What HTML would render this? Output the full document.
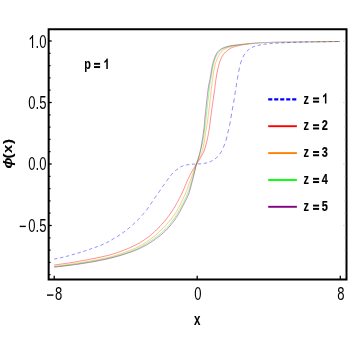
<!DOCTYPE html>
<html><head><meta charset="utf-8">
<style>
html,body{margin:0;padding:0;background:#fff;}
body{width:353px;height:360px;overflow:hidden;position:relative;font-family:"Liberation Sans",sans-serif;}
svg{position:absolute;left:0;top:0;}
text{font-family:"Liberation Sans",sans-serif;fill:#000;}
</style></head><body>
<svg width="353" height="360" viewBox="0 0 353 360">
<rect x="0" y="0" width="353" height="360" fill="#fff"/>
<defs><linearGradient id="fg" gradientUnits="userSpaceOnUse" x1="228.0" y1="0" x2="262.0" y2="0"><stop offset="0" stop-color="#fff"/><stop offset="1" stop-color="rgb(128,128,128)"/></linearGradient><mask id="fm" maskUnits="userSpaceOnUse" x="0" y="0" width="353" height="360"><rect x="0" y="0" width="353" height="360" fill="url(#fg)"/></mask></defs>
<g mask="url(#fm)"><g fill="none" stroke-width="0.52" transform="scale(0.75,1)">
<path d="M72.3 265.0 L73.7 264.9 L75.1 264.7 L76.5 264.6 L77.9 264.5 L79.3 264.3 L80.7 264.2 L82.1 264.0 L83.5 263.9 L84.9 263.7 L86.3 263.6 L87.7 263.4 L89.1 263.3 L90.5 263.1 L91.8 263.0 L93.2 262.8 L94.6 262.6 L96.0 262.5 L97.4 262.3 L98.8 262.1 L100.2 262.0 L101.6 261.8 L103.0 261.6 L104.3 261.4 L105.7 261.2 L107.1 261.0 L108.5 260.8 L109.9 260.7 L111.3 260.5 L112.6 260.3 L114.0 260.1 L115.4 259.9 L116.8 259.7 L118.2 259.5 L119.6 259.3 L120.9 259.1 L122.3 258.9 L123.7 258.7 L125.1 258.5 L126.5 258.3 L127.9 258.1 L129.2 257.8 L130.6 257.6 L132.0 257.4 L133.4 257.2 L134.8 257.0 L136.1 256.8 L137.5 256.6 L138.9 256.3 L140.3 256.1 L141.6 255.9 L143.0 255.6 L144.4 255.4 L145.7 255.1 L147.1 254.8 L148.4 254.5 L149.8 254.2 L151.1 253.9 L152.5 253.6 L153.8 253.3 L155.1 252.9 L156.5 252.6 L157.8 252.2 L159.1 251.9 L160.4 251.5 L161.8 251.2 L163.1 250.8 L164.4 250.4 L165.7 250.0 L167.0 249.6 L168.3 249.2 L169.6 248.8 L170.9 248.4 L172.2 248.0 L173.5 247.6 L174.8 247.1 L176.1 246.7 L177.3 246.3 L178.6 245.8 L179.9 245.3 L181.1 244.9 L182.4 244.4 L183.6 243.9 L184.9 243.4 L186.1 242.9 L187.3 242.3 L188.5 241.8 L189.7 241.2 L190.9 240.6 L192.0 240.1 L193.2 239.5 L194.4 238.8 L195.5 238.2 L196.6 237.6 L197.8 237.0 L198.9 236.3 L200.0 235.7 L201.1 235.0 L202.1 234.3 L203.2 233.6 L204.3 232.9 L205.3 232.2 L206.3 231.5 L207.4 230.8 L208.4 230.0 L209.4 229.3 L210.4 228.6 L211.3 227.8 L212.3 227.0 L213.3 226.3 L214.3 225.5 L215.2 224.7 L216.2 224.0 L217.1 223.2 L218.1 222.4 L219.0 221.6 L219.9 220.8 L220.8 220.0 L221.7 219.1 L222.5 218.3 L223.4 217.5 L224.2 216.6 L225.1 215.8 L225.9 214.9 L226.7 214.1 L227.5 213.2 L228.3 212.3 L229.1 211.4 L229.8 210.6 L230.6 209.7 L231.3 208.8 L232.1 207.9 L232.8 207.0 L233.5 206.1 L234.3 205.2 L235.0 204.3 L235.7 203.3 L236.4 202.4 L237.1 201.5 L237.7 200.6 L238.4 199.6 L239.0 198.7 L239.7 197.8 L240.3 196.8 L240.9 195.9 L241.6 194.9 L242.2 194.0 L242.8 193.0 L243.3 192.1 L243.9 191.1 L244.5 190.1 L245.0 189.2 L245.6 188.2 L246.2 187.2 L246.7 186.2 L247.2 185.3 L247.8 184.3 L248.3 183.3 L248.8 182.3 L249.4 181.4 L249.9 180.4 L250.5 179.4 L251.1 178.5 L251.7 177.5 L252.4 176.6 L253.0 175.6 L253.6 174.7 L254.3 173.8 L255.0 172.8 L255.6 171.9 L256.3 171.0 L257.0 170.1 L257.7 169.2 L258.5 168.3 L259.2 167.4 L259.9 166.5 L260.7 165.6 L261.4 164.7 L262.2 163.8 L263.0 162.9 L263.8 162.0 L264.6 161.2 L265.4 160.3 L266.2 159.4 L266.9 158.5 L267.6 157.6 L268.3 156.7 L269.0 155.8 L269.6 154.8 L270.3 153.9 L270.9 152.9 L271.4 152.0 L272.0 151.0 L272.5 150.0 L272.9 149.0 L273.4 148.0 L273.8 147.0 L274.2 146.0 L274.5 145.0 L274.9 143.9 L275.3 142.9 L275.6 141.9 L275.9 140.9 L276.3 139.8 L276.6 138.8 L276.9 137.8 L277.1 136.7 L277.4 135.7 L277.7 134.7 L277.9 133.6 L278.2 132.6 L278.4 131.5 L278.6 130.5 L278.8 129.5 L279.1 128.4 L279.3 127.4 L279.5 126.3 L279.7 125.3 L279.8 124.2 L280.0 123.2 L280.2 122.1 L280.4 121.1 L280.5 120.0 L280.7 119.0 L280.9 118.0 L281.1 116.9 L281.3 115.9 L281.5 114.8 L281.7 113.8 L281.8 112.7 L282.0 111.7 L282.2 110.6 L282.4 109.6 L282.6 108.5 L282.8 107.5 L283.0 106.5 L283.2 105.4 L283.4 104.4 L283.6 103.3 L283.8 102.3 L284.0 101.2 L284.2 100.2 L284.4 99.1 L284.6 98.1 L284.8 97.0 L285.0 96.0 L285.2 95.0 L285.4 93.9 L285.6 92.9 L285.7 91.8 L285.9 90.8 L286.1 89.7 L286.3 88.7 L286.5 87.6 L286.6 86.6 L286.8 85.5 L287.0 84.5 L287.2 83.4 L287.3 82.4 L287.5 81.4 L287.7 80.3 L287.9 79.3 L288.2 78.2 L288.4 77.2 L288.6 76.1 L288.8 75.1 L289.1 74.1 L289.3 73.0 L289.6 72.0 L289.9 70.9 L290.2 69.9 L290.5 68.9 L290.8 67.8 L291.1 66.8 L291.5 65.8 L291.8 64.8 L292.2 63.8 L292.6 62.8 L293.1 61.8 L293.6 60.7 L294.1 59.7 L294.6 58.8 L295.2 57.8 L295.8 56.9 L296.5 56.0 L297.3 55.1 L298.1 54.2 L299.0 53.4 L300.0 52.6 L301.0 51.8 L302.0 51.1 L303.0 50.5 L304.2 49.8 L305.3 49.2 L306.5 48.6 L307.8 48.1 L309.0 47.7 L310.3 47.3 L311.7 47.0 L313.0 46.7 L314.4 46.4 L315.8 46.1 L317.2 45.9 L318.5 45.7 L319.9 45.4 L321.3 45.2 L322.7 45.0 L324.0 44.8 L325.4 44.7 L326.8 44.5 L328.2 44.3 L329.6 44.2 L331.0 44.0 L332.4 43.9 L333.8 43.8 L335.2 43.7 L336.6 43.6 L338.0 43.4 L339.4 43.3 L340.8 43.2 L342.2 43.1 L343.6 43.0 L345.0 42.9 L346.4 42.8 L347.8 42.8 L349.2 42.7 L350.6 42.7 L352.0 42.6 L353.4 42.6 L354.8 42.5 L356.2 42.5 L357.6 42.5 L359.1 42.4 L360.5 42.4 L361.9 42.4 L363.3 42.3 L364.7 42.3 L366.1 42.3 L367.5 42.3 L368.9 42.2 L370.3 42.2 L371.7 42.2 L373.1 42.2 L374.5 42.2 L375.9 42.2 L377.3 42.1 L378.8 42.1 L380.2 42.1 L381.6 42.1 L383.0 42.1 L384.4 42.1 L385.8 42.1 L387.2 42.0 L388.6 42.0 L390.0 42.0 L391.4 42.0 L392.8 42.0 L394.2 42.0 L395.6 42.0 L397.0 42.0 L398.5 42.0 L399.9 42.0 L401.3 41.9 L402.7 41.9 L404.1 41.9 L405.5 41.9 L406.9 41.9 L408.3 41.9 L409.7 41.9 L411.1 41.9 L412.5 41.8 L413.9 41.8 L415.3 41.8 L416.7 41.8" stroke="#ff0000"/>
<path d="M72.3 266.3 L73.8 266.2 L75.2 266.1 L76.6 265.9 L78.0 265.8 L79.4 265.7 L80.8 265.6 L82.3 265.4 L83.7 265.3 L85.1 265.1 L86.5 265.0 L87.9 264.9 L89.3 264.7 L90.7 264.6 L92.2 264.4 L93.6 264.3 L95.0 264.1 L96.4 264.0 L97.8 263.8 L99.2 263.6 L100.6 263.5 L102.0 263.3 L103.4 263.1 L104.9 263.0 L106.3 262.8 L107.7 262.6 L109.1 262.4 L110.5 262.3 L111.9 262.1 L113.3 261.9 L114.7 261.7 L116.1 261.5 L117.5 261.3 L118.9 261.1 L120.3 261.0 L121.7 260.8 L123.1 260.6 L124.5 260.4 L125.9 260.2 L127.4 260.0 L128.8 259.8 L130.2 259.6 L131.6 259.4 L133.0 259.2 L134.4 259.0 L135.8 258.8 L137.2 258.6 L138.6 258.4 L140.0 258.2 L141.4 257.9 L142.8 257.7 L144.2 257.5 L145.5 257.2 L146.9 257.0 L148.3 256.7 L149.7 256.4 L151.0 256.1 L152.4 255.8 L153.8 255.5 L155.1 255.2 L156.5 254.9 L157.9 254.6 L159.2 254.2 L160.6 253.9 L161.9 253.6 L163.3 253.2 L164.7 252.8 L166.0 252.5 L167.3 252.1 L168.7 251.7 L170.0 251.4 L171.3 251.0 L172.7 250.6 L174.0 250.2 L175.3 249.8 L176.6 249.4 L177.9 249.0 L179.3 248.5 L180.6 248.1 L181.8 247.6 L183.1 247.1 L184.4 246.7 L185.7 246.2 L186.9 245.7 L188.2 245.2 L189.4 244.6 L190.7 244.1 L191.9 243.6 L193.1 243.0 L194.3 242.4 L195.5 241.9 L196.7 241.3 L197.9 240.7 L199.1 240.0 L200.2 239.4 L201.4 238.8 L202.5 238.1 L203.6 237.4 L204.7 236.8 L205.8 236.1 L206.9 235.4 L208.0 234.7 L209.1 234.0 L210.2 233.3 L211.2 232.6 L212.3 231.9 L213.3 231.1 L214.3 230.4 L215.4 229.7 L216.4 228.9 L217.4 228.2 L218.4 227.4 L219.4 226.6 L220.4 225.8 L221.4 225.1 L222.3 224.3 L223.3 223.5 L224.2 222.7 L225.2 221.9 L226.1 221.0 L227.0 220.2 L227.9 219.4 L228.8 218.5 L229.7 217.7 L230.5 216.8 L231.4 216.0 L232.2 215.1 L233.0 214.2 L233.8 213.3 L234.6 212.4 L235.3 211.5 L236.0 210.6 L236.7 209.7 L237.4 208.7 L238.1 207.8 L238.7 206.8 L239.4 205.9 L240.0 204.9 L240.7 203.9 L241.3 203.0 L241.9 202.0 L242.5 201.1 L243.2 200.1 L243.8 199.1 L244.4 198.2 L245.0 197.2 L245.6 196.2 L246.2 195.3 L246.8 194.3 L247.4 193.3 L247.9 192.3 L248.5 191.3 L249.0 190.3 L249.5 189.3 L250.0 188.3 L250.5 187.3 L250.9 186.3 L251.4 185.3 L251.9 184.3 L252.4 183.3 L252.9 182.3 L253.4 181.3 L253.9 180.3 L254.4 179.3 L254.9 178.3 L255.4 177.3 L255.9 176.3 L256.3 175.2 L256.8 174.2 L257.3 173.2 L257.8 172.2 L258.3 171.2 L258.8 170.2 L259.2 169.2 L259.7 168.2 L260.3 167.2 L260.8 166.2 L261.3 165.2 L261.9 164.2 L262.5 163.3 L263.1 162.3 L263.7 161.3 L264.4 160.4 L265.1 159.4 L265.7 158.5 L266.3 157.5 L266.9 156.5 L267.5 155.6 L268.0 154.6 L268.6 153.6 L269.1 152.6 L269.5 151.6 L270.0 150.5 L270.3 149.5 L270.6 148.5 L270.9 147.4 L271.2 146.4 L271.5 145.3 L271.7 144.3 L272.0 143.2 L272.2 142.1 L272.5 141.1 L272.7 140.0 L272.9 139.0 L273.2 137.9 L273.4 136.9 L273.6 135.8 L273.8 134.7 L274.0 133.7 L274.2 132.6 L274.4 131.6 L274.6 130.5 L274.9 129.5 L275.1 128.4 L275.3 127.3 L275.6 126.3 L275.8 125.2 L276.1 124.2 L276.3 123.1 L276.5 122.1 L276.7 121.0 L276.9 119.9 L277.1 118.9 L277.3 117.8 L277.5 116.8 L277.7 115.7 L277.8 114.6 L278.0 113.6 L278.2 112.5 L278.4 111.5 L278.5 110.4 L278.7 109.3 L278.9 108.3 L279.1 107.2 L279.2 106.1 L279.4 105.1 L279.6 104.0 L279.7 102.9 L279.9 101.9 L280.0 100.8 L280.2 99.8 L280.3 98.7 L280.5 97.6 L280.7 96.6 L280.8 95.5 L281.0 94.4 L281.1 93.4 L281.3 92.3 L281.4 91.2 L281.6 90.2 L281.8 89.1 L281.9 88.1 L282.1 87.0 L282.3 85.9 L282.5 84.9 L282.6 83.8 L282.8 82.7 L283.0 81.7 L283.2 80.6 L283.4 79.6 L283.6 78.5 L283.8 77.4 L284.0 76.4 L284.2 75.3 L284.4 74.3 L284.6 73.2 L284.8 72.1 L285.1 71.1 L285.3 70.0 L285.6 69.0 L285.8 67.9 L286.2 66.9 L286.5 65.8 L286.8 64.8 L287.2 63.8 L287.6 62.7 L288.1 61.7 L288.6 60.7 L289.0 59.7 L289.6 58.7 L290.1 57.7 L290.8 56.8 L291.5 55.8 L292.2 54.9 L293.0 54.0 L293.8 53.1 L294.7 52.3 L295.6 51.5 L296.7 50.7 L297.8 50.0 L298.9 49.3 L300.1 48.8 L301.3 48.3 L302.6 47.9 L304.0 47.5 L305.4 47.2 L306.8 46.9 L308.1 46.6 L309.5 46.3 L310.9 46.1 L312.3 45.9 L313.7 45.7 L315.1 45.5 L316.5 45.3 L317.9 45.1 L319.3 45.0 L320.8 44.8 L322.2 44.6 L323.6 44.5 L325.0 44.4 L326.4 44.2 L327.8 44.1 L329.3 44.0 L330.7 43.9 L332.1 43.8 L333.5 43.6 L334.9 43.5 L336.4 43.4 L337.8 43.3 L339.2 43.3 L340.6 43.2 L342.0 43.1 L343.5 43.0 L344.9 42.9 L346.3 42.8 L347.7 42.8 L349.2 42.7 L350.6 42.7 L352.0 42.6 L353.4 42.6 L354.9 42.5 L356.3 42.5 L357.7 42.5 L359.1 42.4 L360.6 42.4 L362.0 42.4 L363.4 42.3 L364.9 42.3 L366.3 42.3 L367.7 42.3 L369.1 42.2 L370.6 42.2 L372.0 42.2 L373.4 42.2 L374.8 42.2 L376.3 42.1 L377.7 42.1 L379.1 42.1 L380.5 42.1 L382.0 42.1 L383.4 42.1 L384.8 42.1 L386.3 42.1 L387.7 42.0 L389.1 42.0 L390.5 42.0 L392.0 42.0 L393.4 42.0 L394.8 42.0 L396.2 42.0 L397.7 42.0 L399.1 42.0 L400.5 41.9 L402.0 41.9 L403.4 41.9 L404.8 41.9 L406.2 41.9 L407.7 41.9 L409.1 41.9 L410.5 41.9 L411.9 41.9 L413.4 41.8 L414.8 41.8 L416.2 41.8 L417.7 41.8" stroke="#ff8000"/>
<path d="M72.3 266.7 L73.8 266.6 L75.2 266.5 L76.6 266.4 L78.1 266.3 L79.5 266.1 L80.9 266.0 L82.3 265.9 L83.8 265.8 L85.2 265.7 L86.6 265.5 L88.1 265.4 L89.5 265.3 L90.9 265.1 L92.3 265.0 L93.8 264.9 L95.2 264.7 L96.6 264.6 L98.0 264.4 L99.5 264.3 L100.9 264.1 L102.3 264.0 L103.7 263.8 L105.2 263.6 L106.6 263.5 L108.0 263.3 L109.4 263.1 L110.8 263.0 L112.3 262.8 L113.7 262.6 L115.1 262.4 L116.5 262.3 L117.9 262.1 L119.3 261.9 L120.8 261.7 L122.2 261.5 L123.6 261.3 L125.0 261.1 L126.4 260.9 L127.8 260.7 L129.3 260.6 L130.7 260.4 L132.1 260.2 L133.5 259.9 L134.9 259.7 L136.3 259.5 L137.7 259.3 L139.2 259.1 L140.6 258.9 L142.0 258.6 L143.4 258.4 L144.8 258.1 L146.2 257.9 L147.5 257.6 L148.9 257.4 L150.3 257.1 L151.7 256.8 L153.1 256.5 L154.5 256.2 L155.9 255.9 L157.2 255.6 L158.6 255.3 L160.0 255.0 L161.4 254.7 L162.7 254.3 L164.1 254.0 L165.5 253.7 L166.8 253.3 L168.2 253.0 L169.6 252.6 L170.9 252.2 L172.3 251.9 L173.6 251.5 L175.0 251.1 L176.3 250.7 L177.6 250.3 L179.0 249.9 L180.3 249.5 L181.6 249.1 L182.9 248.6 L184.2 248.2 L185.5 247.7 L186.8 247.2 L188.1 246.8 L189.4 246.3 L190.7 245.7 L191.9 245.2 L193.2 244.7 L194.4 244.1 L195.6 243.6 L196.9 243.0 L198.1 242.4 L199.3 241.8 L200.4 241.2 L201.6 240.6 L202.8 240.0 L203.9 239.3 L205.1 238.7 L206.2 238.0 L207.4 237.4 L208.5 236.7 L209.7 236.0 L210.8 235.4 L212.0 234.7 L213.1 234.1 L214.3 233.4 L215.4 232.7 L216.5 232.0 L217.6 231.3 L218.6 230.6 L219.7 229.9 L220.7 229.1 L221.6 228.3 L222.6 227.5 L223.6 226.7 L224.5 225.9 L225.5 225.1 L226.4 224.3 L227.3 223.4 L228.2 222.6 L229.1 221.7 L229.9 220.8 L230.8 220.0 L231.6 219.1 L232.5 218.2 L233.3 217.3 L234.1 216.4 L234.9 215.5 L235.6 214.6 L236.4 213.7 L237.1 212.8 L237.8 211.8 L238.6 210.9 L239.3 210.0 L240.0 209.0 L240.7 208.1 L241.3 207.1 L242.0 206.1 L242.7 205.2 L243.3 204.2 L244.0 203.3 L244.6 202.3 L245.3 201.3 L245.9 200.4 L246.6 199.4 L247.2 198.4 L247.8 197.5 L248.4 196.5 L249.0 195.5 L249.5 194.5 L250.1 193.5 L250.6 192.5 L251.1 191.5 L251.6 190.5 L252.1 189.5 L252.5 188.4 L252.9 187.4 L253.4 186.4 L253.8 185.3 L254.2 184.3 L254.6 183.3 L255.0 182.2 L255.4 181.2 L255.8 180.2 L256.2 179.1 L256.6 178.1 L257.0 177.1 L257.4 176.0 L257.8 175.0 L258.2 173.9 L258.6 172.9 L259.0 171.9 L259.4 170.8 L259.7 169.8 L260.1 168.7 L260.5 167.7 L260.9 166.7 L261.3 165.6 L261.7 164.6 L262.2 163.6 L262.6 162.6 L263.1 161.5 L263.6 160.5 L264.1 159.5 L264.6 158.5 L265.0 157.5 L265.5 156.4 L265.9 155.4 L266.3 154.4 L266.7 153.3 L267.1 152.3 L267.4 151.3 L267.8 150.2 L268.1 149.2 L268.5 148.1 L268.8 147.1 L269.1 146.0 L269.4 145.0 L269.7 143.9 L270.0 142.8 L270.3 141.8 L270.5 140.7 L270.8 139.7 L271.0 138.6 L271.3 137.5 L271.5 136.5 L271.7 135.4 L272.0 134.3 L272.2 133.3 L272.4 132.2 L272.6 131.1 L272.8 130.1 L273.0 129.0 L273.2 127.9 L273.3 126.9 L273.5 125.8 L273.7 124.7 L273.8 123.6 L274.0 122.6 L274.2 121.5 L274.3 120.4 L274.5 119.4 L274.7 118.3 L274.8 117.2 L275.0 116.1 L275.2 115.1 L275.3 114.0 L275.5 112.9 L275.6 111.9 L275.8 110.8 L276.0 109.7 L276.1 108.6 L276.3 107.6 L276.4 106.5 L276.6 105.4 L276.8 104.4 L276.9 103.3 L277.1 102.2 L277.2 101.1 L277.4 100.1 L277.6 99.0 L277.7 97.9 L277.9 96.9 L278.1 95.8 L278.2 94.7 L278.4 93.6 L278.5 92.6 L278.7 91.5 L278.8 90.4 L279.0 89.3 L279.2 88.3 L279.3 87.2 L279.5 86.1 L279.7 85.1 L279.9 84.0 L280.2 82.9 L280.4 81.9 L280.7 80.8 L280.9 79.8 L281.2 78.7 L281.5 77.6 L281.7 76.6 L281.9 75.5 L282.2 74.4 L282.4 73.4 L282.6 72.3 L282.9 71.2 L283.1 70.2 L283.4 69.1 L283.6 68.0 L283.9 67.0 L284.2 65.9 L284.5 64.9 L284.8 63.8 L285.2 62.8 L285.6 61.7 L286.0 60.7 L286.4 59.6 L286.9 58.6 L287.4 57.6 L287.9 56.7 L288.5 55.7 L289.3 54.7 L290.1 53.8 L290.9 52.9 L291.8 52.1 L292.8 51.3 L293.8 50.6 L295.0 50.0 L296.2 49.3 L297.5 48.8 L298.8 48.3 L300.1 47.9 L301.4 47.5 L302.8 47.1 L304.1 46.8 L305.5 46.5 L306.9 46.2 L308.3 46.0 L309.7 45.8 L311.2 45.6 L312.6 45.4 L314.0 45.3 L315.4 45.1 L316.9 45.0 L318.3 44.9 L319.7 44.7 L321.2 44.6 L322.6 44.4 L324.0 44.3 L325.4 44.2 L326.9 44.1 L328.3 43.9 L329.7 43.8 L331.2 43.7 L332.6 43.6 L334.0 43.5 L335.5 43.5 L336.9 43.4 L338.3 43.3 L339.8 43.2 L341.2 43.1 L342.6 43.0 L344.1 43.0 L345.5 42.9 L346.9 42.8 L348.4 42.7 L349.8 42.7 L351.2 42.6 L352.7 42.6 L354.1 42.6 L355.5 42.5 L357.0 42.5 L358.4 42.4 L359.9 42.4 L361.3 42.4 L362.7 42.3 L364.2 42.3 L365.6 42.3 L367.0 42.3 L368.5 42.2 L369.9 42.2 L371.4 42.2 L372.8 42.2 L374.2 42.2 L375.7 42.2 L377.1 42.1 L378.6 42.1 L380.0 42.1 L381.4 42.1 L382.9 42.1 L384.3 42.1 L385.7 42.1 L387.2 42.0 L388.6 42.0 L390.1 42.0 L391.5 42.0 L392.9 42.0 L394.4 42.0 L395.8 42.0 L397.2 42.0 L398.7 42.0 L400.1 42.0 L401.6 41.9 L403.0 41.9 L404.4 41.9 L405.9 41.9 L407.3 41.9 L408.8 41.9 L410.2 41.9 L411.6 41.9 L413.1 41.8 L414.5 41.8 L415.9 41.8 L417.4 41.8" stroke="#00ff00"/>
<path d="M72.3 267.1 L73.8 267.0 L75.2 266.9 L76.6 266.8 L78.1 266.7 L79.5 266.5 L81.0 266.4 L82.4 266.3 L83.8 266.2 L85.3 266.0 L86.7 265.9 L88.1 265.8 L89.6 265.7 L91.0 265.5 L92.4 265.4 L93.9 265.2 L95.3 265.1 L96.7 265.0 L98.2 264.8 L99.6 264.7 L101.0 264.5 L102.5 264.4 L103.9 264.2 L105.3 264.1 L106.8 263.9 L108.2 263.7 L109.6 263.6 L111.1 263.4 L112.5 263.2 L113.9 263.1 L115.3 262.9 L116.8 262.7 L118.2 262.5 L119.6 262.4 L121.0 262.2 L122.5 262.0 L123.9 261.8 L125.3 261.6 L126.7 261.4 L128.2 261.2 L129.6 261.0 L131.0 260.8 L132.4 260.6 L133.8 260.4 L135.3 260.2 L136.7 260.0 L138.1 259.7 L139.5 259.5 L140.9 259.3 L142.3 259.1 L143.7 258.8 L145.1 258.6 L146.5 258.3 L147.9 258.1 L149.3 257.8 L150.7 257.5 L152.1 257.3 L153.5 257.0 L154.9 256.7 L156.3 256.4 L157.7 256.1 L159.1 255.8 L160.5 255.5 L161.9 255.2 L163.3 254.9 L164.7 254.5 L166.0 254.2 L167.4 253.9 L168.8 253.5 L170.2 253.2 L171.5 252.8 L172.9 252.5 L174.3 252.1 L175.6 251.8 L177.0 251.4 L178.3 251.0 L179.7 250.6 L181.0 250.2 L182.3 249.8 L183.7 249.4 L185.0 248.9 L186.3 248.5 L187.6 248.0 L188.9 247.5 L190.2 247.0 L191.5 246.5 L192.8 246.0 L194.0 245.5 L195.3 245.0 L196.6 244.4 L197.8 243.9 L199.0 243.3 L200.2 242.7 L201.5 242.2 L202.7 241.5 L203.9 240.9 L205.0 240.3 L206.2 239.7 L207.4 239.0 L208.5 238.4 L209.7 237.7 L210.9 237.1 L212.0 236.4 L213.2 235.8 L214.3 235.1 L215.4 234.4 L216.5 233.7 L217.6 233.0 L218.7 232.2 L219.7 231.5 L220.7 230.8 L221.7 230.0 L222.7 229.2 L223.7 228.4 L224.7 227.6 L225.7 226.8 L226.6 226.0 L227.6 225.1 L228.5 224.3 L229.4 223.4 L230.3 222.6 L231.2 221.7 L232.1 220.8 L232.9 220.0 L233.7 219.1 L234.5 218.2 L235.3 217.3 L236.1 216.4 L236.9 215.5 L237.6 214.5 L238.3 213.6 L239.0 212.7 L239.8 211.7 L240.5 210.8 L241.1 209.8 L241.8 208.8 L242.5 207.9 L243.2 206.9 L243.8 205.9 L244.5 205.0 L245.2 204.0 L245.8 203.1 L246.5 202.1 L247.2 201.1 L247.8 200.1 L248.5 199.2 L249.1 198.2 L249.7 197.2 L250.3 196.2 L250.9 195.2 L251.4 194.2 L251.9 193.2 L252.4 192.2 L252.8 191.2 L253.2 190.1 L253.6 189.1 L254.0 188.0 L254.3 187.0 L254.7 185.9 L255.1 184.9 L255.4 183.8 L255.8 182.8 L256.2 181.7 L256.6 180.7 L257.0 179.6 L257.3 178.6 L257.7 177.5 L258.1 176.5 L258.4 175.4 L258.8 174.4 L259.1 173.3 L259.4 172.3 L259.7 171.2 L260.0 170.2 L260.4 169.1 L260.7 168.0 L261.0 167.0 L261.3 165.9 L261.7 164.9 L262.1 163.8 L262.5 162.8 L262.9 161.8 L263.3 160.7 L263.8 159.7 L264.2 158.7 L264.6 157.6 L265.1 156.6 L265.5 155.5 L265.8 154.5 L266.2 153.4 L266.5 152.4 L266.9 151.3 L267.2 150.3 L267.5 149.2 L267.8 148.2 L268.1 147.1 L268.4 146.0 L268.6 145.0 L268.9 143.9 L269.1 142.8 L269.3 141.8 L269.5 140.7 L269.8 139.6 L270.0 138.5 L270.2 137.5 L270.5 136.4 L270.7 135.3 L270.9 134.3 L271.1 133.2 L271.4 132.1 L271.6 131.0 L271.7 130.0 L271.9 128.9 L272.1 127.8 L272.2 126.7 L272.3 125.7 L272.5 124.6 L272.6 123.5 L272.7 122.4 L272.8 121.3 L273.0 120.3 L273.1 119.2 L273.2 118.1 L273.4 117.0 L273.5 115.9 L273.7 114.9 L273.8 113.8 L274.0 112.7 L274.1 111.6 L274.3 110.5 L274.4 109.5 L274.6 108.4 L274.7 107.3 L274.9 106.2 L275.0 105.2 L275.2 104.1 L275.3 103.0 L275.5 101.9 L275.7 100.8 L275.8 99.8 L276.0 98.7 L276.2 97.6 L276.3 96.5 L276.5 95.5 L276.7 94.4 L276.8 93.3 L277.0 92.2 L277.2 91.2 L277.4 90.1 L277.5 89.0 L277.7 87.9 L278.0 86.9 L278.2 85.8 L278.4 84.7 L278.7 83.7 L279.0 82.6 L279.3 81.5 L279.6 80.5 L279.9 79.4 L280.2 78.4 L280.5 77.3 L280.7 76.2 L281.0 75.1 L281.2 74.1 L281.4 73.0 L281.6 71.9 L281.8 70.8 L282.1 69.8 L282.3 68.7 L282.5 67.6 L282.8 66.6 L283.1 65.5 L283.4 64.5 L283.8 63.4 L284.2 62.4 L284.6 61.3 L285.0 60.3 L285.5 59.2 L286.0 58.2 L286.5 57.2 L287.1 56.2 L287.7 55.2 L288.4 54.2 L289.1 53.2 L289.9 52.3 L290.7 51.5 L291.6 50.8 L292.7 50.1 L293.9 49.4 L295.2 48.8 L296.5 48.3 L297.8 47.9 L299.1 47.5 L300.5 47.1 L301.9 46.8 L303.3 46.5 L304.7 46.2 L306.1 46.0 L307.6 45.8 L309.0 45.6 L310.4 45.5 L311.8 45.3 L313.3 45.2 L314.7 45.1 L316.2 44.9 L317.6 44.8 L319.0 44.7 L320.5 44.6 L321.9 44.4 L323.3 44.3 L324.8 44.2 L326.2 44.1 L327.7 44.0 L329.1 43.9 L330.5 43.8 L332.0 43.7 L333.4 43.6 L334.9 43.5 L336.3 43.4 L337.7 43.3 L339.2 43.2 L340.6 43.2 L342.1 43.1 L343.5 43.0 L344.9 42.9 L346.4 42.8 L347.8 42.8 L349.3 42.7 L350.7 42.7 L352.2 42.6 L353.6 42.6 L355.0 42.5 L356.5 42.5 L357.9 42.5 L359.4 42.4 L360.8 42.4 L362.3 42.4 L363.7 42.3 L365.2 42.3 L366.6 42.3 L368.1 42.3 L369.5 42.2 L370.9 42.2 L372.4 42.2 L373.8 42.2 L375.3 42.2 L376.7 42.1 L378.2 42.1 L379.6 42.1 L381.1 42.1 L382.5 42.1 L384.0 42.1 L385.4 42.1 L386.8 42.1 L388.3 42.0 L389.7 42.0 L391.2 42.0 L392.6 42.0 L394.1 42.0 L395.5 42.0 L397.0 42.0 L398.4 42.0 L399.9 42.0 L401.3 41.9 L402.7 41.9 L404.2 41.9 L405.6 41.9 L407.1 41.9 L408.5 41.9 L410.0 41.9 L411.4 41.9 L412.9 41.8 L414.3 41.8 L415.8 41.8 L417.2 41.8" stroke="#800080"/>
</g></g>
<g fill="none" stroke-width="0.52" transform="scale(0.75,1)">
<path d="M72.3 259.1 L73.7 258.9 L75.0 258.7 L76.3 258.5 L77.7 258.3 L79.0 258.1 L80.3 257.8 L81.6 257.6 L83.0 257.4 L84.3 257.1 L85.6 256.9 L86.9 256.7 L88.3 256.4 L89.6 256.2 L90.9 255.9 L92.2 255.6 L93.5 255.4 L94.8 255.1 L96.1 254.8 L97.4 254.5 L98.7 254.2 L100.0 253.9 L101.3 253.6 L102.7 253.4 L104.0 253.1 L105.3 252.8 L106.6 252.5 L107.9 252.2 L109.2 251.9 L110.5 251.6 L111.8 251.3 L113.0 250.9 L114.3 250.6 L115.6 250.3 L116.9 250.0 L118.2 249.6 L119.5 249.3 L120.8 249.0 L122.1 248.6 L123.3 248.3 L124.6 248.0 L125.9 247.6 L127.2 247.3 L128.5 246.9 L129.8 246.6 L131.0 246.3 L132.3 245.9 L133.6 245.5 L134.8 245.1 L136.1 244.8 L137.3 244.3 L138.6 243.9 L139.8 243.5 L141.0 243.1 L142.3 242.6 L143.5 242.1 L144.7 241.7 L145.9 241.2 L147.0 240.7 L148.2 240.1 L149.4 239.6 L150.6 239.1 L151.7 238.6 L152.9 238.1 L154.1 237.5 L155.2 237.0 L156.4 236.5 L157.5 235.9 L158.7 235.4 L159.8 234.8 L160.9 234.2 L162.1 233.7 L163.2 233.1 L164.3 232.5 L165.4 231.9 L166.5 231.3 L167.6 230.7 L168.6 230.0 L169.7 229.4 L170.8 228.8 L171.8 228.1 L172.8 227.5 L173.9 226.8 L174.9 226.1 L175.9 225.4 L176.9 224.8 L177.9 224.1 L179.0 223.4 L180.0 222.7 L181.0 222.0 L182.0 221.3 L182.9 220.6 L183.9 219.9 L184.8 219.2 L185.8 218.4 L186.7 217.7 L187.6 216.9 L188.5 216.1 L189.4 215.4 L190.3 214.6 L191.2 213.8 L192.1 213.1 L193.0 212.3 L193.8 211.5 L194.7 210.7 L195.5 209.9 L196.4 209.1 L197.1 208.3 L197.9 207.4 L198.6 206.6 L199.4 205.7 L200.1 204.9 L200.9 204.0 L201.7 203.2 L202.4 202.3 L203.2 201.5 L203.9 200.6 L204.7 199.8 L205.5 198.9 L206.2 198.1 L207.0 197.3 L207.8 196.4 L208.6 195.6 L209.4 194.8 L210.1 193.9 L210.9 193.1 L211.7 192.3 L212.5 191.4 L213.3 190.6 L214.0 189.7 L214.8 188.9 L215.6 188.1 L216.3 187.2 L217.1 186.4 L217.9 185.5 L218.7 184.7 L219.5 183.9 L220.2 183.0 L221.0 182.2 L221.8 181.4 L222.6 180.5 L223.4 179.7 L224.2 178.9 L225.0 178.1 L225.9 177.3 L226.7 176.5 L227.5 175.7 L228.4 174.9 L229.3 174.1 L230.2 173.3 L231.1 172.6 L232.1 171.9 L233.1 171.2 L234.1 170.5 L235.2 169.9 L236.3 169.3 L237.4 168.6 L238.5 168.0 L239.6 167.5 L240.8 166.9 L242.0 166.5 L243.2 166.1 L244.5 165.7 L245.8 165.4 L247.1 165.2 L248.5 165.0 L249.8 164.8 L251.1 164.6 L252.5 164.5 L253.8 164.3 L255.2 164.2 L256.6 164.2 L257.9 164.1 L259.3 164.1 L260.6 164.0 L262.0 164.0 L263.4 164.0 L264.7 163.9 L266.1 163.9 L267.4 163.8 L268.8 163.8 L270.1 163.6 L271.5 163.5 L272.8 163.3 L274.2 163.2 L275.5 162.9 L276.8 162.7 L278.1 162.4 L279.4 162.0 L280.7 161.6 L281.9 161.2 L283.1 160.7 L284.2 160.2 L285.4 159.6 L286.5 159.0 L287.6 158.4 L288.6 157.7 L289.6 157.0 L290.6 156.3 L291.5 155.5 L292.4 154.7 L293.2 153.9 L293.9 153.1 L294.6 152.2 L295.3 151.4 L295.9 150.4 L296.5 149.5 L297.1 148.6 L297.6 147.6 L298.2 146.7 L298.7 145.7 L299.2 144.8 L299.7 143.8 L300.2 142.9 L300.6 141.9 L301.1 141.0 L301.5 140.0 L301.9 139.0 L302.2 138.0 L302.5 137.0 L302.8 136.0 L303.1 135.0 L303.4 134.0 L303.7 133.0 L304.0 132.0 L304.3 131.0 L304.6 130.1 L304.9 129.1 L305.2 128.1 L305.5 127.1 L305.8 126.1 L306.2 125.1 L306.4 124.1 L306.7 123.1 L307.0 122.1 L307.2 121.1 L307.4 120.1 L307.7 119.1 L307.9 118.1 L308.1 117.1 L308.3 116.1 L308.5 115.1 L308.8 114.0 L309.0 113.0 L309.2 112.0 L309.4 111.0 L309.7 110.0 L309.9 109.0 L310.1 108.0 L310.4 107.0 L310.6 106.0 L310.9 105.0 L311.1 104.0 L311.4 103.0 L311.6 102.0 L311.9 101.0 L312.1 100.0 L312.3 99.0 L312.5 98.0 L312.7 97.0 L312.9 96.0 L313.1 94.9 L313.3 93.9 L313.5 92.9 L313.7 91.9 L313.9 90.9 L314.1 89.9 L314.3 88.9 L314.6 87.9 L314.8 86.9 L315.0 85.9 L315.2 84.9 L315.4 83.9 L315.6 82.8 L315.8 81.8 L316.1 80.8 L316.3 79.8 L316.5 78.8 L316.7 77.8 L317.0 76.8 L317.2 75.8 L317.5 74.8 L317.7 73.8 L317.9 72.8 L318.2 71.8 L318.5 70.8 L318.7 69.8 L319.0 68.8 L319.3 67.8 L319.6 66.8 L319.9 65.8 L320.3 64.8 L320.6 63.8 L321.0 62.8 L321.4 61.9 L321.8 60.9 L322.3 60.0 L322.8 59.0 L323.3 58.0 L323.9 57.1 L324.5 56.2 L325.2 55.3 L325.9 54.4 L326.6 53.6 L327.4 52.8 L328.3 52.0 L329.2 51.2 L330.2 50.5 L331.2 49.8 L332.2 49.2 L333.3 48.6 L334.5 48.0 L335.7 47.5 L337.0 47.1 L338.2 46.7 L339.5 46.4 L340.8 46.1 L342.1 45.8 L343.4 45.6 L344.8 45.4 L346.1 45.1 L347.4 44.9 L348.8 44.8 L350.1 44.6 L351.4 44.4 L352.8 44.2 L354.1 44.1 L355.5 44.0 L356.8 43.8 L358.2 43.7 L359.5 43.6 L360.9 43.6 L362.3 43.5 L363.6 43.4 L365.0 43.3 L366.3 43.3 L367.7 43.2 L369.0 43.1 L370.4 43.1 L371.8 43.0 L373.1 43.0 L374.5 42.9 L375.8 42.9 L377.2 42.8 L378.6 42.8 L379.9 42.7 L381.3 42.7 L382.6 42.6 L384.0 42.6 L385.3 42.5 L386.7 42.5 L388.1 42.5 L389.4 42.4 L390.8 42.4 L392.1 42.3 L393.5 42.3 L394.9 42.3 L396.2 42.2 L397.6 42.2 L398.9 42.2 L400.3 42.1 L401.7 42.1 L403.0 42.1 L404.4 42.0 L405.7 42.0 L407.1 42.0 L408.5 42.0 L409.8 41.9 L411.2 41.9 L412.5 41.9 L413.9 41.9 L415.3 41.9 L416.6 41.8 L418.0 41.8 L419.3 41.8 L420.7 41.8 L422.1 41.8 L423.4 41.8 L424.8 41.7 L426.1 41.7 L427.5 41.7 L428.9 41.7 L430.2 41.7 L431.6 41.7 L432.9 41.7 L434.3 41.7 L435.7 41.6 L437.0 41.6 L438.4 41.6 L439.7 41.6 L441.1 41.6 L442.5 41.6 L443.8 41.6 L445.2 41.6 L446.5 41.5 L447.9 41.5 L449.3 41.5 L450.6 41.5 L452.0 41.5 L453.3 41.5" stroke="#0000ff" stroke-dasharray="4.4 3.5"/>
<path d="M418.2 41.8 L419.6 41.8 L421.0 41.8 L422.4 41.8 L423.8 41.7 L425.2 41.7 L426.6 41.7 L428.0 41.7 L429.4 41.7 L430.8 41.7 L432.2 41.7 L433.6 41.7 L435.0 41.7 L436.4 41.6 L437.9 41.6 L439.3 41.6 L440.7 41.6 L442.1 41.6 L443.5 41.6 L444.9 41.6 L446.3 41.6 L447.7 41.5 L449.1 41.5 L450.5 41.5 L451.9 41.5 L453.3 41.5" stroke="#ff0000" stroke-opacity="0.5"/>
<path d="M417.7 41.8 L419.1 41.8 L420.5 41.8 L421.9 41.8 L423.4 41.8 L424.8 41.7 L426.2 41.7 L427.6 41.7 L429.1 41.7 L430.5 41.7 L431.9 41.7 L433.4 41.7 L434.8 41.7 L436.2 41.6 L437.6 41.6 L439.1 41.6 L440.5 41.6 L441.9 41.6 L443.3 41.6 L444.8 41.6 L446.2 41.6 L447.6 41.5 L449.1 41.5 L450.5 41.5 L451.9 41.5 L453.3 41.5" stroke="#ff8000" stroke-opacity="0.5"/>
<path d="M417.4 41.8 L418.8 41.8 L420.3 41.8 L421.7 41.8 L423.1 41.8 L424.6 41.7 L426.0 41.7 L427.4 41.7 L428.9 41.7 L430.3 41.7 L431.8 41.7 L433.2 41.7 L434.6 41.7 L436.1 41.6 L437.5 41.6 L439.0 41.6 L440.4 41.6 L441.8 41.6 L443.3 41.6 L444.7 41.6 L446.1 41.6 L447.6 41.5 L449.0 41.5 L450.5 41.5 L451.9 41.5 L453.3 41.5" stroke="#00ff00" stroke-opacity="0.5"/>
<path d="M418.6 41.8 L420.1 41.8 L421.5 41.8 L423.0 41.8 L424.4 41.7 L425.9 41.7 L427.3 41.7 L428.8 41.7 L430.2 41.7 L431.7 41.7 L433.1 41.7 L434.5 41.7 L436.0 41.6 L437.4 41.6 L438.9 41.6 L440.3 41.6 L441.8 41.6 L443.2 41.6 L444.7 41.6 L446.1 41.6 L447.6 41.5 L449.0 41.5 L450.4 41.5 L451.9 41.5 L453.3 41.5" stroke="#800080" stroke-opacity="0.5"/>
</g>
<rect x="48.65" y="29.25" width="297.85" height="250.25" fill="none" stroke="#000" stroke-width="2"/>
<g stroke="#000" stroke-width="1.3">
<line x1="54.2" y1="279" x2="54.2" y2="275.7"/>
<line x1="197.2" y1="279" x2="197.2" y2="275.7"/>
<line x1="340.3" y1="279" x2="340.3" y2="275.7"/>
<line x1="49" y1="41.0" x2="51.7" y2="41.0"/>
<line x1="49" y1="102.5" x2="51.7" y2="102.5"/>
<line x1="49" y1="164.0" x2="51.7" y2="164.0"/>
<line x1="49" y1="225.5" x2="51.7" y2="225.5"/>
<line x1="49" y1="274.7" x2="50.5" y2="274.7"/>
<line x1="49" y1="262.4" x2="50.5" y2="262.4"/>
<line x1="49" y1="250.1" x2="50.5" y2="250.1"/>
<line x1="49" y1="237.8" x2="50.5" y2="237.8"/>
<line x1="49" y1="213.2" x2="50.5" y2="213.2"/>
<line x1="49" y1="200.9" x2="50.5" y2="200.9"/>
<line x1="49" y1="188.6" x2="50.5" y2="188.6"/>
<line x1="49" y1="176.3" x2="50.5" y2="176.3"/>
<line x1="49" y1="151.7" x2="50.5" y2="151.7"/>
<line x1="49" y1="139.4" x2="50.5" y2="139.4"/>
<line x1="49" y1="127.1" x2="50.5" y2="127.1"/>
<line x1="49" y1="114.8" x2="50.5" y2="114.8"/>
<line x1="49" y1="90.2" x2="50.5" y2="90.2"/>
<line x1="49" y1="77.9" x2="50.5" y2="77.9"/>
<line x1="49" y1="65.6" x2="50.5" y2="65.6"/>
<line x1="49" y1="53.3" x2="50.5" y2="53.3"/>
</g>
<g stroke="#ccc" stroke-width="0.7">
<line x1="344" y1="274.7" x2="345.6" y2="274.7"/>
<line x1="344" y1="262.4" x2="345.6" y2="262.4"/>
<line x1="344" y1="250.1" x2="345.6" y2="250.1"/>
<line x1="344" y1="237.8" x2="345.6" y2="237.8"/>
<line x1="343" y1="225.5" x2="345.6" y2="225.5"/>
<line x1="344" y1="213.2" x2="345.6" y2="213.2"/>
<line x1="344" y1="200.9" x2="345.6" y2="200.9"/>
<line x1="344" y1="188.6" x2="345.6" y2="188.6"/>
<line x1="344" y1="176.3" x2="345.6" y2="176.3"/>
<line x1="343" y1="164.0" x2="345.6" y2="164.0"/>
<line x1="344" y1="151.7" x2="345.6" y2="151.7"/>
<line x1="344" y1="139.4" x2="345.6" y2="139.4"/>
<line x1="344" y1="127.1" x2="345.6" y2="127.1"/>
<line x1="344" y1="114.8" x2="345.6" y2="114.8"/>
<line x1="343" y1="102.5" x2="345.6" y2="102.5"/>
<line x1="344" y1="90.2" x2="345.6" y2="90.2"/>
<line x1="344" y1="77.9" x2="345.6" y2="77.9"/>
<line x1="344" y1="65.6" x2="345.6" y2="65.6"/>
<line x1="344" y1="53.3" x2="345.6" y2="53.3"/>
<line x1="343" y1="41.0" x2="345.6" y2="41.0"/>
</g>
<g style="opacity:0.999">
<text transform="translate(46.40,47.90) scale(0.725,1)" font-size="18.0" text-anchor="end">.0</text>
<path transform="translate(28.26,47.90) scale(0.00637,-0.00879)" d="M763 0H583V1147Q518 1085 412.5 1023T223 930V1104Q374 1175 487 1276T647 1472H763Z"/>
<text transform="translate(46.40,109.40) scale(0.725,1)" font-size="18.0" text-anchor="end">0.5</text>
<text transform="translate(46.40,170.20) scale(0.725,1)" font-size="18.0" text-anchor="end">0.0</text>
<text transform="translate(46.40,231.50) scale(0.725,1)" font-size="18.0" text-anchor="end">0.5</text>
<rect x="19.7" y="225.7" width="6.1" height="1.4" fill="#000"/>
<text transform="translate(58.70,300.00) scale(0.725,1)" font-size="18.0" text-anchor="middle">8</text>
<rect x="47" y="294.4" width="6.4" height="1.4" fill="#000"/>
<text transform="translate(197.90,300.00) scale(0.725,1)" font-size="18.0" text-anchor="middle">0</text>
<text transform="translate(340.90,300.00) scale(0.725,1)" font-size="18.0" text-anchor="middle">8</text>
<text transform="translate(84.20,69.00) scale(0.755,1)" font-size="14.5" text-anchor="start" font-weight="bold" stroke="#000" stroke-width="0.08">p</text>
<rect x="94.00" y="62.85" width="6.1" height="1.9"/><rect x="94.00" y="66.10" width="6.1" height="1.95"/>
<path transform="translate(103.50,69.00) scale(0.00535,-0.00708)" d="M806 0H525V1059Q371 915 162 846V1101Q272 1137 401 1237.5T578 1472H806Z"/>
<text transform="translate(303.50,103.60) scale(0.755,1)" font-size="14.5" text-anchor="start" font-weight="bold" stroke="#000" stroke-width="0.08">z</text>
<rect x="313.00" y="97.45" width="6.1" height="1.9"/><rect x="313.00" y="100.70" width="6.1" height="1.95"/>
<path transform="translate(322.10,103.60) scale(0.00535,-0.00708)" d="M806 0H525V1059Q371 915 162 846V1101Q272 1137 401 1237.5T578 1472H806Z"/>
<text transform="translate(303.50,130.40) scale(0.755,1)" font-size="14.5" text-anchor="start" font-weight="bold" stroke="#000" stroke-width="0.08">z</text>
<rect x="313.00" y="124.25" width="6.1" height="1.9"/><rect x="313.00" y="127.50" width="6.1" height="1.95"/>
<text transform="translate(321.80,130.40) scale(0.755,1)" font-size="14.5" text-anchor="start" font-weight="bold" stroke="#000" stroke-width="0.22">2</text>
<text transform="translate(303.50,157.20) scale(0.755,1)" font-size="14.5" text-anchor="start" font-weight="bold" stroke="#000" stroke-width="0.08">z</text>
<rect x="313.00" y="151.05" width="6.1" height="1.9"/><rect x="313.00" y="154.30" width="6.1" height="1.95"/>
<text transform="translate(321.80,157.20) scale(0.755,1)" font-size="14.5" text-anchor="start" font-weight="bold" stroke="#000" stroke-width="0.22">3</text>
<text transform="translate(303.50,184.00) scale(0.755,1)" font-size="14.5" text-anchor="start" font-weight="bold" stroke="#000" stroke-width="0.08">z</text>
<rect x="313.00" y="177.85" width="6.1" height="1.9"/><rect x="313.00" y="181.10" width="6.1" height="1.95"/>
<text transform="translate(321.80,184.00) scale(0.755,1)" font-size="14.5" text-anchor="start" font-weight="bold" stroke="#000" stroke-width="0.22">4</text>
<text transform="translate(303.50,210.80) scale(0.755,1)" font-size="14.5" text-anchor="start" font-weight="bold" stroke="#000" stroke-width="0.08">z</text>
<rect x="313.00" y="204.65" width="6.1" height="1.9"/><rect x="313.00" y="207.90" width="6.1" height="1.95"/>
<text transform="translate(321.80,210.80) scale(0.755,1)" font-size="14.5" text-anchor="start" font-weight="bold" stroke="#000" stroke-width="0.22">5</text>
<text transform="translate(197.20,325.00) scale(0.7,1)" font-size="16.5" text-anchor="middle" font-weight="bold" stroke="#000" stroke-width="0.08">x</text>
<text transform="translate(12.1,153.7) rotate(-90) scale(1,0.82)" font-size="14.7" font-weight="bold" text-anchor="middle" stroke="#000" stroke-width="0.1"><tspan font-style="italic">ϕ</tspan><tspan dx="-1.3">(</tspan><tspan dx="0.7">x</tspan><tspan dx="0.9">)</tspan></text>
</g>
<g stroke-width="1.9" fill="none">
<line x1="268.2" y1="99.4" x2="296.9" y2="99.4" stroke="#0000ff" stroke-dasharray="4.1 1.9" stroke-width="2.1"/>
<line x1="268.2" y1="126.2" x2="296.9" y2="126.2" stroke="#ff0000"/>
<line x1="268.2" y1="153.1" x2="296.9" y2="153.1" stroke="#ff8000"/>
<line x1="268.2" y1="180.0" x2="296.9" y2="180.0" stroke="#00ff00"/>
<line x1="268.2" y1="206.8" x2="296.9" y2="206.8" stroke="#800080"/>
</g>
</svg>
</body></html>
